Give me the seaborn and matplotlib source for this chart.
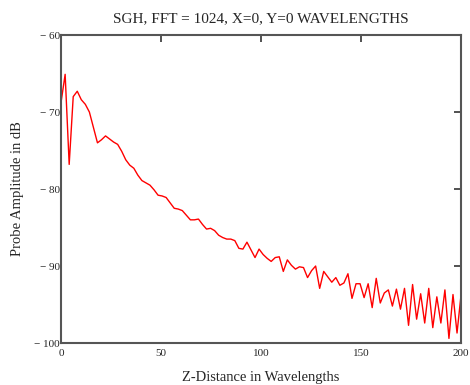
import numpy as np
import pandas as pd
import matplotlib
matplotlib.use('Agg')
import matplotlib.pyplot as plt
from matplotlib.ticker import FuncFormatter
import seaborn as sns

# probe amplitude (dB), 100 samples from z=0 to z=200
amplitude_db = [
    -68.7, -65.1, -76.8, -68.0, -67.3, -68.4, -69.0, -70.0, -72.0, -74.0,
    -73.6, -73.1, -73.5, -73.9, -74.2, -75.1, -76.2, -76.9, -77.3, -78.2,
    -78.9, -79.2, -79.5, -80.1, -80.8, -80.9, -81.1, -81.8, -82.5, -82.6,
    -82.8, -83.4, -84.0, -84.0, -83.9, -84.6, -85.2, -85.1, -85.4, -86.0,
    -86.3, -86.5, -86.5, -86.7, -87.7, -87.8, -86.9, -87.9, -88.9, -87.8,
    -88.5, -89.0, -89.4, -88.9, -88.8, -90.7, -89.2, -89.9, -90.4, -90.1,
    -90.2, -91.5, -90.6, -90.0, -92.9, -90.7, -91.4, -92.1, -91.5, -92.5,
    -92.2, -91.0, -94.2, -92.3, -92.3, -94.1, -92.3, -95.4, -91.6, -94.8,
    -93.5, -93.1, -95.2, -93.0, -95.6, -92.9, -97.7, -92.4, -96.9, -93.6,
    -97.4, -92.9, -98.0, -94.0, -97.4, -93.1, -99.4, -93.7, -98.7, -93.7,
]
z_distance = np.linspace(0, 200, len(amplitude_db))

x_ticks = [0, 50, 100, 150, 200]
y_ticks = [-100, -90, -80, -70, -60]

df = pd.DataFrame({'z': z_distance, 'amp': amplitude_db})

sns.set_theme(style='white')
plt.rcParams['font.family'] = ['Liberation Serif', 'DejaVu Serif']

fig = plt.figure(figsize=(4.7, 3.85), dpi=100)
ax = fig.add_axes([0.130, 0.109, 0.851, 0.800])

sns.lineplot(data=df, x='z', y='amp', color='red', linewidth=1.0, ax=ax)

ax.set_xlim(0, 200)
ax.set_ylim(-100, -60)
ax.set_xticks(x_ticks)
ax.set_yticks(y_ticks)
ax.yaxis.set_major_formatter(FuncFormatter(lambda v, p: f'\u2212 {abs(v):g}'))

ax.tick_params(direction='in', length=5, width=1.2, color='#333333',
               labelsize=8, top=True, right=True)
ax.tick_params(axis='x', pad=4)
ax.tick_params(axis='y', pad=1)
for side in ['left', 'right', 'top', 'bottom']:
    ax.spines[side].set_color('#555555')
    ax.spines[side].set_linewidth(1.5)

ax.set_title('SGH, FFT = 1024, X=0, Y=0 WAVELENGTHS', fontsize=11, pad=9)
ax.set_xlabel('Z-Distance in Wavelengths', fontsize=10.5, labelpad=10)
ax.set_ylabel('Probe Amplitude in dB', fontsize=10.5, labelpad=7)

fig.savefig('out.png', dpi=100)
